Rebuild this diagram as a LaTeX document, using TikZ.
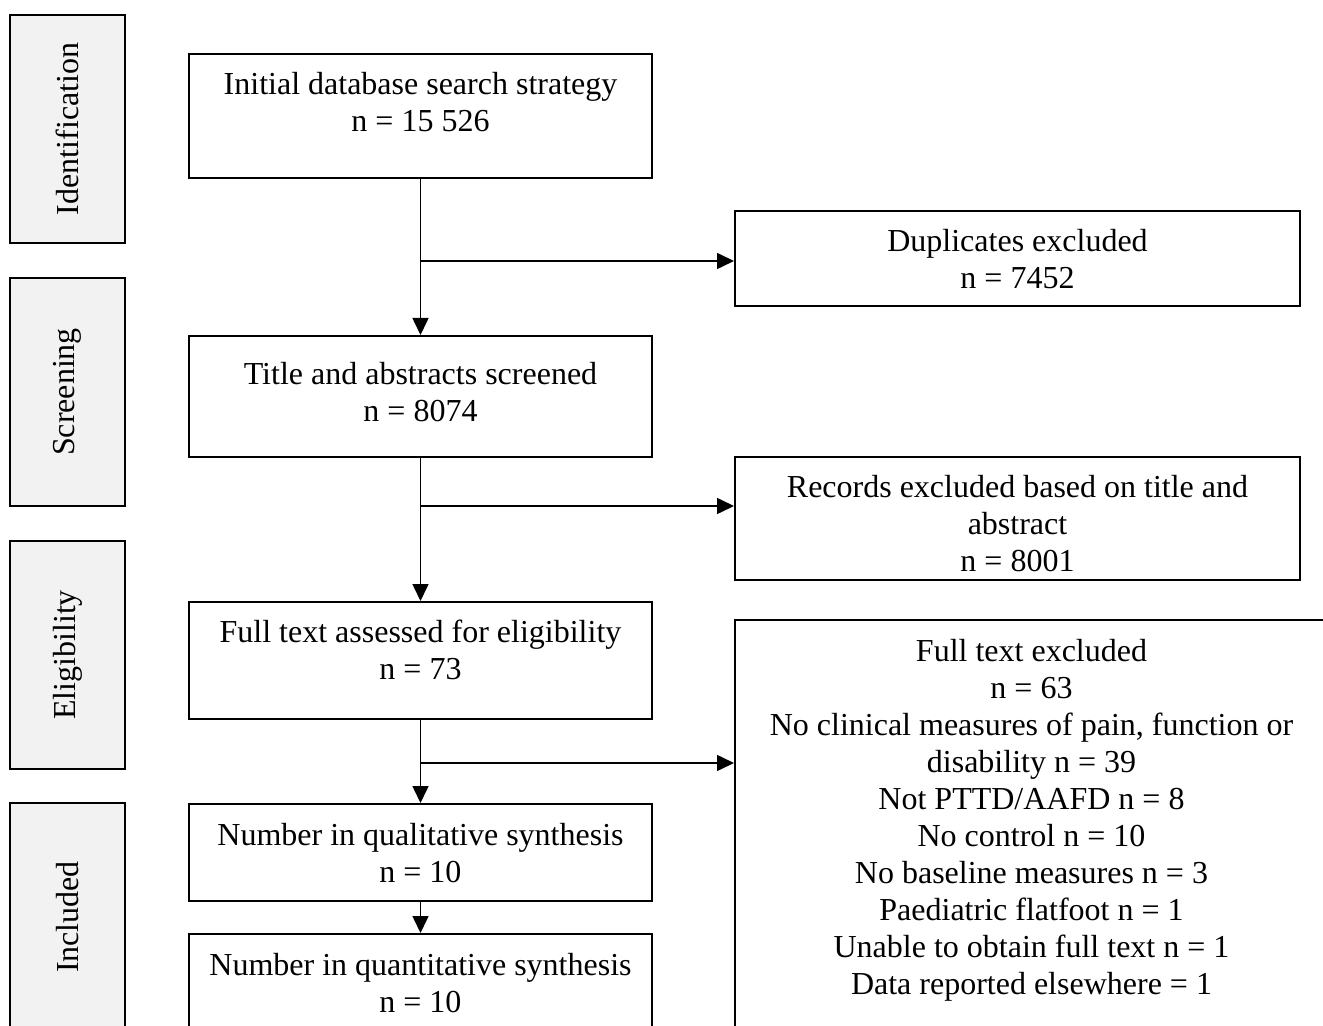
\documentclass[tikz,border=0pt]{standalone}
\usepackage{fontspec}
\setmainfont{Liberation Serif}
\usetikzlibrary{arrows.meta}
\definecolor{phasegray}{HTML}{F2F2F2}

\begin{document}
\begin{tikzpicture}[x=0.5pt, y=-0.5pt,
  box/.style={draw, line width=1pt, inner sep=0pt},
  phase/.style={draw, line width=1pt, fill=phasegray, rotate=90, minimum width=114pt, minimum height=57.5pt, inner sep=0pt, font=\fontsize{16}{18.5}\selectfont},
  txt/.style={anchor=north, align=center, inner sep=0pt, font=\fontsize{16}{18.5}\selectfont},
  arr/.style={-{Triangle[length=8.5pt,width=8pt]}, line width=0.8pt}]

  \clip (0,0) rectangle (1323,1026);

  % phases
  \node[phase] (ident) at (67.5,129) {Identification};
  \node[phase] (screen) at (67.5,392) {Screening};
  \node[phase] (elig) at (67.5,655) {Eligibility};
  \node[phase] (incl) at (67.5,917) {Included};

  % main column
  \node[box, minimum width=231.5pt, minimum height=62pt] (init) at (420.5,116) {};
  \node[box, minimum width=231.5pt, minimum height=60.5pt] (title) at (420.5,396.5) {};
  \node[box, minimum width=231.5pt, minimum height=58.5pt] (full) at (420.5,660.5) {};
  \node[box, minimum width=231.5pt, minimum height=48.5pt] (qual) at (420.5,852.5) {};
  \node[box, minimum width=231.5pt, minimum height=48.5pt] (quant) at (420.5,982.5) {};

  % exclusions
  \node[box, minimum width=282.5pt, minimum height=47.5pt] (dup) at (1017.5,258.5) {};
  \node[box, minimum width=282.5pt, minimum height=61.5pt] (rec) at (1017.5,518.5) {};
  \node[box, minimum width=296.5pt, minimum height=210pt] (excl) at (1031.5,830) {};

  % texts
  \node[txt] (init-t) at (420.5,72) {Initial database search strategy\\n = 15 526};
  \node[txt] (title-t) at (420.5,362) {Title and abstracts screened\\n = 8074};
  \node[txt] (full-t) at (420.5,620) {Full text assessed for eligibility\\n = 73};
  \node[txt] (qual-t) at (420.5,823) {Number in qualitative synthesis\\n = 10};
  \node[txt] (quant-t) at (420.5,953) {Number in quantitative synthesis\\n = 10};
  \node[txt] (dup-t) at (1017.5,229) {Duplicates excluded\\n = 7452};
  \node[txt] (rec-t) at (1017.5,475) {Records excluded based on title and\\abstract\\n = 8001};
  \node[txt] (excl-t) at (1031.5,639) {Full text excluded\\n = 63\\No clinical measures of pain, function or\\disability n = 39\\Not PTTD/AAFD n = 8\\No control n = 10\\No baseline measures n = 3\\Paediatric flatfoot n = 1\\Unable to obtain full text n = 1\\Data reported elsewhere = 1};

  % flow
  \coordinate (b1) at (420.5,261);
  \coordinate (b2) at (420.5,506);
  \coordinate (b3) at (420.5,763);

  \draw[arr] (init) -- (title);
  \draw[arr] (title) -- (full);
  \draw[arr] (full) -- (qual);
  \draw[arr] (qual) -- (quant);
  \draw[arr] (b1) -- (b1 -| dup.west);
  \draw[arr] (b2) -- (b2 -| rec.west);
  \draw[arr] (b3) -- (b3 -| excl.west);

\end{tikzpicture}
\end{document}
